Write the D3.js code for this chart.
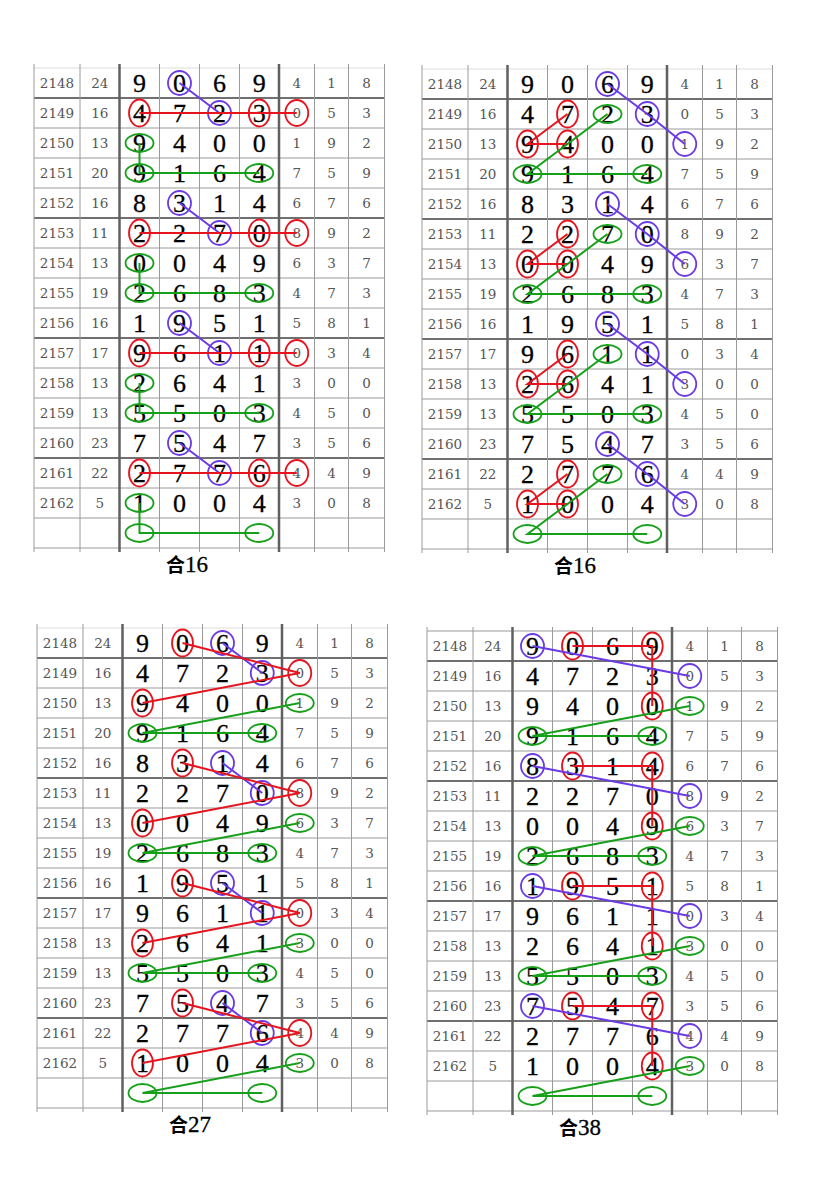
<!DOCTYPE html>
<html><head><meta charset="utf-8">
<script src="https://cdn.jsdelivr.net/npm/d3@7/dist/d3.min.js"></script>
<style>html,body{margin:0;padding:0;background:#fff;}svg{display:block;}</style>
</head><body>
<script>
// ---- data ----
const periods = [2148,2149,2150,2151,2152,2153,2154,2155,2156,2157,2158,2159,2160,2161,2162];
const sums    = [24,16,13,20,16,11,13,19,16,17,13,13,23,22,5];
const pos1    = [9,4,9,9,8,2,0,2,1,9,2,5,7,2,1];
const pos2    = [0,7,4,1,3,2,0,6,9,6,6,5,5,7,0];
const pos3    = [6,2,0,6,1,7,4,8,5,1,4,0,4,7,0];
const pos4    = [9,3,0,4,4,0,9,3,1,1,1,3,7,6,4];
const extra1  = [4,0,1,7,6,8,6,4,5,0,3,4,3,4,3];
const extra2  = [1,5,9,5,7,9,3,7,8,3,0,5,5,4,0];
const extra3  = [8,3,2,9,6,2,7,3,1,4,0,0,6,9,8];
const titlePrefix = "合";
const titleNums = ["16","16","27","38"];
const groupOffsets = [0,4,8,12];
// annotation patterns per panel: [row, col] with col 0-3 = digit columns, 4 = first extra column
const pattern1 = [
  {color:"purple", path:[[0,1],[1,2]], circles:[[0,1],[1,2]]},
  {color:"red",    path:[[1,0],[1,4]], circles:[[1,0],[1,3],[1,4]]},
  {color:"green",  path:[[2,0],[3,0],[3,3]], circles:[[2,0],[3,0],[3,3]]}
];
const pattern2 = [
  {color:"purple", path:[[0,2],[1,3],[2,4]], circles:[[0,2],[1,3],[2,4]]},
  {color:"red",    path:[[1,1],[2,0],[2,1]], circles:[[1,1],[2,0],[2,1]]},
  {color:"green",  path:[[1,2],[3,0],[3,3]], circles:[[1,2],[3,0],[3,3]]}
];
const pattern3 = [
  {color:"purple", path:[[0,2],[1,3]], circles:[[0,2],[1,3]]},
  {color:"red",    path:[[0,1],[1,4],[2,0]], circles:[[0,1],[1,4],[2,0]]},
  {color:"green",  path:[[2,4],[3,0],[3,3]], circles:[[2,4],[3,0],[3,3]]}
];
const pattern4 = [
  {color:"red",    path:[[0,1],[0,3],[2,3]], circles:[[0,1],[0,3],[2,3]]},
  {color:"purple", path:[[0,0],[1,4]], circles:[[0,0],[1,4]]},
  {color:"green",  path:[[2,4],[3,0],[3,3]], circles:[[2,4],[3,0],[3,3]]}
];
const patterns = [pattern1, pattern2, pattern3, pattern4];

// ---- layout / style ----
const W = 818, H = 1187;
const panelPos = [{x:34,y:68},{x:422,y:69},{x:37,y:628},{x:427,y:631}];
const colWidths = [46,39.5,40,40,40,39.5,35.5,34,36];
const rowH = 30, nRows = 16;
const colors = {red:"#e5141e", purple:"#6a3be4", green:"#16a01a"};
const ell = {red:[10.5,13.5], purple:[11.5,12], green:[14,9]};
const ellExtra = {red:[11.5,13], purple:[11.5,12], green:[14,9]};

const edges = [0];
colWidths.forEach(w => edges.push(edges[edges.length-1] + w));
const totalW = edges[edges.length-1];
const centers = colWidths.map((w,i) => edges[i] + w/2);
const xCol = d3.scaleOrdinal().domain(d3.range(9)).range(centers);
const yRow = d3.scaleBand().domain(d3.range(nRows)).range([0, nRows*rowH]).padding(0);
const yc = r => yRow(r) + yRow.bandwidth()/2;
const annCol = c => (c < 4 ? 2 + c : 6);

const rows = periods.map((p,i) => ({
  period:p, sum:sums[i], digits:[pos1[i],pos2[i],pos3[i],pos4[i]], extra:[extra1[i],extra2[i],extra3[i]]
}));

const svg = d3.select("body").append("svg").attr("width", W).attr("height", H);
svg.append("rect").attr("width", W).attr("height", H).attr("fill", "#fff");

panelPos.forEach((pp, pi) => {
  const g = svg.append("g").attr("transform", `translate(${pp.x},${pp.y})`);
  const bottom = nRows*rowH;

  // horizontal grid lines
  const thickRows = [1,5,9,13];
  d3.range(nRows+1).forEach(k => {
    const thick = thickRows.includes(k);
    g.append("line")
      .attr("x1", 0).attr("x2", totalW)
      .attr("y1", yRow.step()*k).attr("y2", yRow.step()*k)
      .attr("stroke", k === 0 ? (pi === 3 ? "#999" : "#ddd") : (thick ? "#707070" : "#9a9a9a"))
      .attr("stroke-width", thick ? 2.2 : 1);
  });
  // vertical grid lines
  edges.forEach((e, i) => {
    const thick = (i === 2 || i === 6);
    g.append("line")
      .attr("x1", e).attr("x2", e)
      .attr("y1", -4).attr("y2", bottom + 4)
      .attr("stroke", thick ? "#606060" : "#9a9a9a")
      .attr("stroke-width", thick ? 2.5 : 1);
  });

  // text
  const rg = g.selectAll("g.row").data(rows).enter().append("g")
    .attr("transform", (d,i) => `translate(0,${yc(i)})`);
  const small = {"font-family":"'DejaVu Serif', serif", "font-size":"13.5px", fill:"#555"};
  const addSmall = (sel, col, fn) => {
    const t = sel.append("text").attr("x", xCol(col)).attr("dy", "0.36em")
      .attr("text-anchor", "middle").text(fn);
    Object.entries(small).forEach(([k,v]) => t.attr(k, v));
  };
  addSmall(rg, 0, d => d.period);
  addSmall(rg, 1, d => d.sum);
  [0,1,2].forEach(j => addSmall(rg, 6+j, d => d.extra[j]));
  [0,1,2,3].forEach(j => {
    rg.append("text").attr("x", xCol(2+j)).attr("dy", "0.35em")
      .attr("text-anchor", "middle")
      .attr("font-family", "'Liberation Serif', 'Times New Roman', serif")
      .attr("font-size", "26px").attr("fill", "#000")
      .attr("stroke", "#000").attr("stroke-width", 0.3)
      .text(d => d.digits[j]);
  });

  // annotations
  const ag = g.append("g");
  groupOffsets.forEach(off => {
    patterns[pi].forEach(m => {
      const line = d3.line().x(p => xCol(annCol(p[1]))).y(p => yc(p[0] + off));
      ag.append("path").attr("d", line(m.path)).attr("fill", "none")
        .attr("stroke", colors[m.color]).attr("stroke-width", 2);
      m.circles.forEach(p => {
        const sz = p[1] === 4 ? ellExtra[m.color] : ell[m.color];
        ag.append("ellipse")
          .attr("cx", xCol(annCol(p[1]))).attr("cy", yc(p[0] + off))
          .attr("rx", sz[0]).attr("ry", sz[1])
          .attr("fill", "none").attr("stroke", colors[m.color]).attr("stroke-width", 1.8);
      });
    });
  });

  // title
  const t = g.append("text").attr("x", 153).attr("y", bottom + 24)
    .attr("text-anchor", "middle").attr("fill", "#000");
  t.append("tspan").attr("font-family", "'Noto Sans CJK SC', sans-serif")
    .attr("font-size", "19px").attr("font-weight", "bold").text(titlePrefix);
  t.append("tspan").attr("font-family", "'Liberation Serif', serif")
    .attr("font-size", "23px").attr("stroke", "#000").attr("stroke-width", 0.3).text(titleNums[pi]);
});
</script>
</body></html>
